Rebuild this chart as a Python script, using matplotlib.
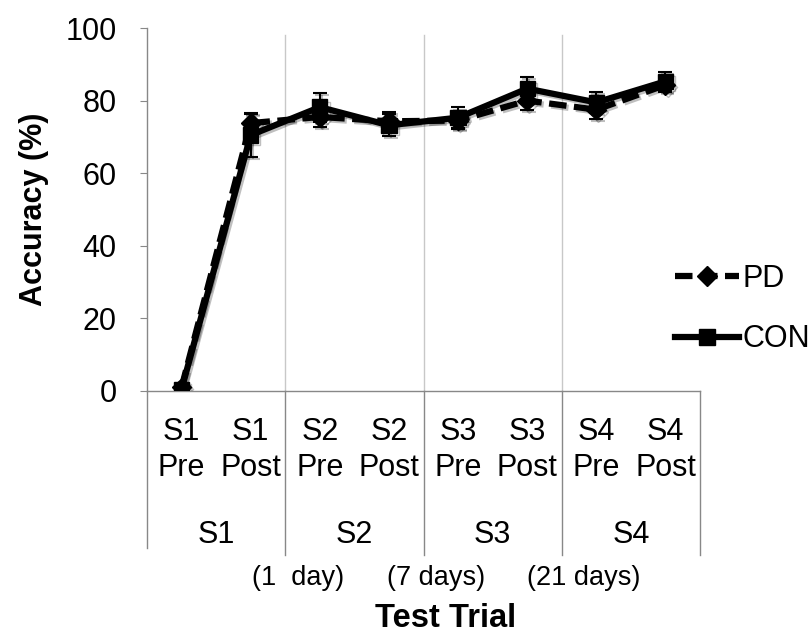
import numpy as np
import matplotlib.pyplot as plt
import matplotlib.patheffects as pe
from matplotlib.lines import Line2D

# values
sessions = ["S1", "S2", "S3", "S4"]
phases = ["Pre", "Post"]
pd_mean = [1.0, 73.8, 75.5, 74.3, 74.5, 80.0, 77.5, 84.3]
pd_err = [1.0, 2.5, 2.7, 2.5, 2.3, 2.7, 2.5, 2.0]
con_mean = [0.5, 70.5, 78.2, 73.2, 75.3, 83.3, 79.5, 85.3]
con_err = [1.0, 6.0, 4.0, 3.0, 2.8, 3.2, 2.8, 2.7]
delays = ["(1  day)", "(7 days)", "(21 days)"]
delay_pos = [1.68, 3.68, 5.82]

plt.rcParams['font.family'] = ['Liberation Sans', 'DejaVu Sans']
FS = 22

fig = plt.figure(figsize=(8.11, 6.34), dpi=100)
ax = fig.add_axes([147/811, 243/634, 553/811, 363/634])

x = np.arange(len(pd_mean))
shadow = [pe.SimpleLineShadow(offset=(1.5, -1.5), alpha=0.25), pe.Normal()]
pd_ls = (0, (2.8, 1.2))

ax.errorbar(x, pd_mean, yerr=pd_err, color='black', lw=4.5, ls=pd_ls,
            marker='D', ms=10, elinewidth=1.5, capsize=5, capthick=1.5,
            zorder=3, path_effects=shadow)
ax.errorbar(x, con_mean, yerr=con_err, color='black', lw=4.5, ls='-',
            marker='s', ms=11, elinewidth=1.5, capsize=5, capthick=1.5,
            zorder=4, path_effects=shadow)

ax.set_xlim(-0.5, 7.5)
ax.set_ylim(0, 100)
ax.set_yticks(range(0, 101, 20))
ax.tick_params(axis='y', labelsize=FS, length=5, color='#888888', pad=17)
ax.set_xticks([])
for s in ['top', 'right']:
    ax.spines[s].set_visible(False)
for s in ['left', 'bottom']:
    ax.spines[s].set_color('#888888')
    ax.spines[s].set_linewidth(1)

# light vertical grid lines between sessions
for b in [1.5, 3.5, 5.5]:
    ax.plot([b, b], [0, 98], color='#c8c8c8', lw=1, zorder=1)

# category axis below the plot
tr = ax.get_xaxis_transform()
ax.plot([-0.5, -0.5], [0, -0.432], transform=tr, color='#888888', lw=1, clip_on=False)
for b in [1.5, 3.5, 5.5, 7.5]:
    ax.plot([b, b], [0, -0.452], transform=tr, color='#888888', lw=1, clip_on=False)
for i in range(len(x)):
    ax.text(i, -0.113, sessions[i // 2], transform=tr, ha='center', va='center', fontsize=FS)
    ax.text(i, -0.212, phases[i % 2], transform=tr, ha='center', va='center', fontsize=FS)
for j, s in enumerate(sessions):
    ax.text(2 * j + 0.5, -0.397, s, transform=tr, ha='center', va='center', fontsize=FS)
for p, d in zip(delay_pos, delays):
    ax.text(p, -0.515, d, transform=tr, ha='center', va='center', fontsize=19.5)
ax.text(3.82, -0.627, "Test Trial", transform=tr, ha='center', va='center',
        fontsize=23.5, fontweight='bold')

ax.set_ylabel("Accuracy (%)", fontsize=FS, fontweight='bold', labelpad=12)

handles = [Line2D([], [], color='black', lw=4.5, ls=pd_ls, marker='D', ms=10),
           Line2D([], [], color='black', lw=4.5, ls='-', marker='s', ms=11)]
fig.legend(handles, ["PD", "CON"], loc='center left',
           bbox_to_anchor=(675/811, 1 - 309/634), frameon=False,
           fontsize=FS, handlelength=2.1, handletextpad=0.1, labelspacing=1.0,
           borderaxespad=0, borderpad=0)

fig.savefig("out.png", dpi=100)
